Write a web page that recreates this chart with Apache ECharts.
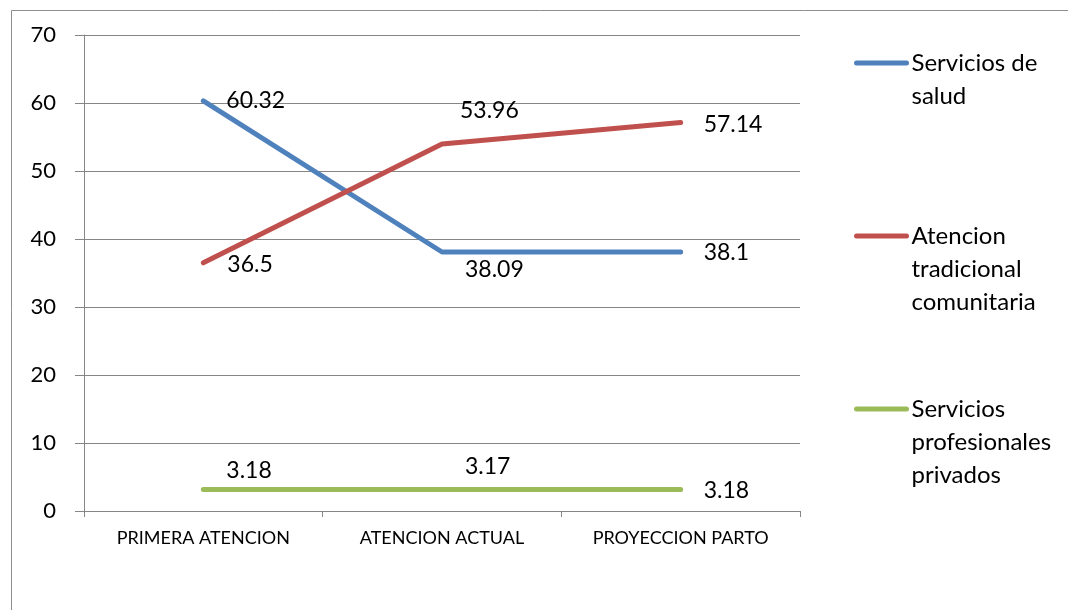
<!DOCTYPE html>
<html>
<head>
<meta charset="utf-8">
<script src="https://cdn.jsdelivr.net/npm/echarts@6/dist/echarts.min.js"></script>
<style>
  html, body { margin: 0; padding: 0; background: #fff; }
  #chart { width: 1068px; height: 610px; }
</style>
</head>
<body>
<div id="chart"></div>
<script>
// Categories and series values
const categories = ['PRIMERA ATENCION', 'ATENCION ACTUAL', 'PROYECCION PARTO'];
const seriesNames = ['Servicios de salud', 'Atencion tradicional comunitaria', 'Servicios profesionales privados'];
const legendLines = [['Servicios de', 'salud'], ['Atencion', 'tradicional', 'comunitaria'], ['Servicios', 'profesionales', 'privados']];
const saludValues = [60.32, 38.09, 38.1];
const tradicionalValues = [36.5, 53.96, 57.14];
const privadosValues = [3.18, 3.17, 3.18];
const yTicks = { min: 0, max: 70, interval: 10 };

// Label placement (pixel nudges per point) and colours
const colors = ['#4F81BD', '#C0504D', '#9BBB59'];
const labelOffsets = [
  [[23, 0], [23, 18], [23, 1]],
  [[24, 2], [18, -33], [23, 2]],
  [[23, -19], [23, -23], [23, 1]]
];
const LINE_H = 33;
// first-line centre of each legend entry
const legendCenters = [63, 236, 409];
const FONT = 'Lato, "Open Sans", sans-serif';

const valueSets = [saludValues, tradicionalValues, privadosValues];

const chart = echarts.init(document.getElementById('chart'));

const series = valueSets.map((vals, si) => ({
  name: seriesNames[si],
  type: 'line',
  symbol: 'circle',
  symbolSize: 0.01,
  showSymbol: true,
  color: colors[si],
  itemStyle: { color: colors[si] },
  lineStyle: { width: 5, color: colors[si], cap: 'round', join: 'round' },
  label: {
    show: true,
    position: 'right',
    distance: 0,
    color: '#000',
    fontFamily: FONT,
    fontSize: 23,
    formatter: p => String(p.value)
  },
  emphasis: { disabled: true },
  data: vals.map((v, i) => ({ value: v, label: { offset: labelOffsets[si][i] } }))
}));

// One legend per entry; blank lines above the name keep the line icon
// level with the first text line.
const legends = seriesNames.map((name, si) => {
  const n = legendLines[si].length;
  return {
    data: [name],
    orient: 'vertical',
    left: 854,
    top: legendCenters[si] - (n - 0.5) * LINE_H,
    padding: 0,
    itemWidth: 50,
    itemHeight: 10,
    selectedMode: false,
    itemStyle: { opacity: 0 },
    lineStyle: { width: 5, cap: 'round' },
    formatter: () => '\n'.repeat(n - 1) + legendLines[si].join('\n'),
    textStyle: {
      fontFamily: FONT,
      fontSize: 24,
      color: '#000',
      lineHeight: LINE_H
    }
  };
});

chart.setOption({
  animation: false,
  backgroundColor: '#fff',
  grid: { left: 84, right: 268, top: 35, bottom: 99, containLabel: false },
  legend: legends,
  xAxis: {
    type: 'category',
    data: categories,
    boundaryGap: true,
    axisLine: { show: true, lineStyle: { color: '#868686', width: 1 } },
    axisTick: { show: true, length: 6, alignWithLabel: false, lineStyle: { color: '#868686' } },
    axisLabel: { color: '#000', fontFamily: FONT, fontSize: 18, margin: 18 },
    splitLine: { show: false }
  },
  yAxis: {
    type: 'value',
    min: yTicks.min,
    max: yTicks.max,
    interval: yTicks.interval,
    axisLine: { show: true, lineStyle: { color: '#868686', width: 1 } },
    axisTick: { show: true, length: 9, lineStyle: { color: '#868686' } },
    axisLabel: { color: '#000', fontFamily: FONT, fontSize: 22, margin: 28 },
    splitLine: { show: true, lineStyle: { color: '#868686', width: 1 } }
  },
  graphic: [{
    type: 'rect',
    left: 9,
    top: 8,
    shape: { width: 1100, height: 700 },
    style: { fill: 'none', stroke: '#8e8e8e', lineWidth: 1 },
    silent: true,
    z: -10
  }],
  series: series
});
</script>
</body>
</html>
